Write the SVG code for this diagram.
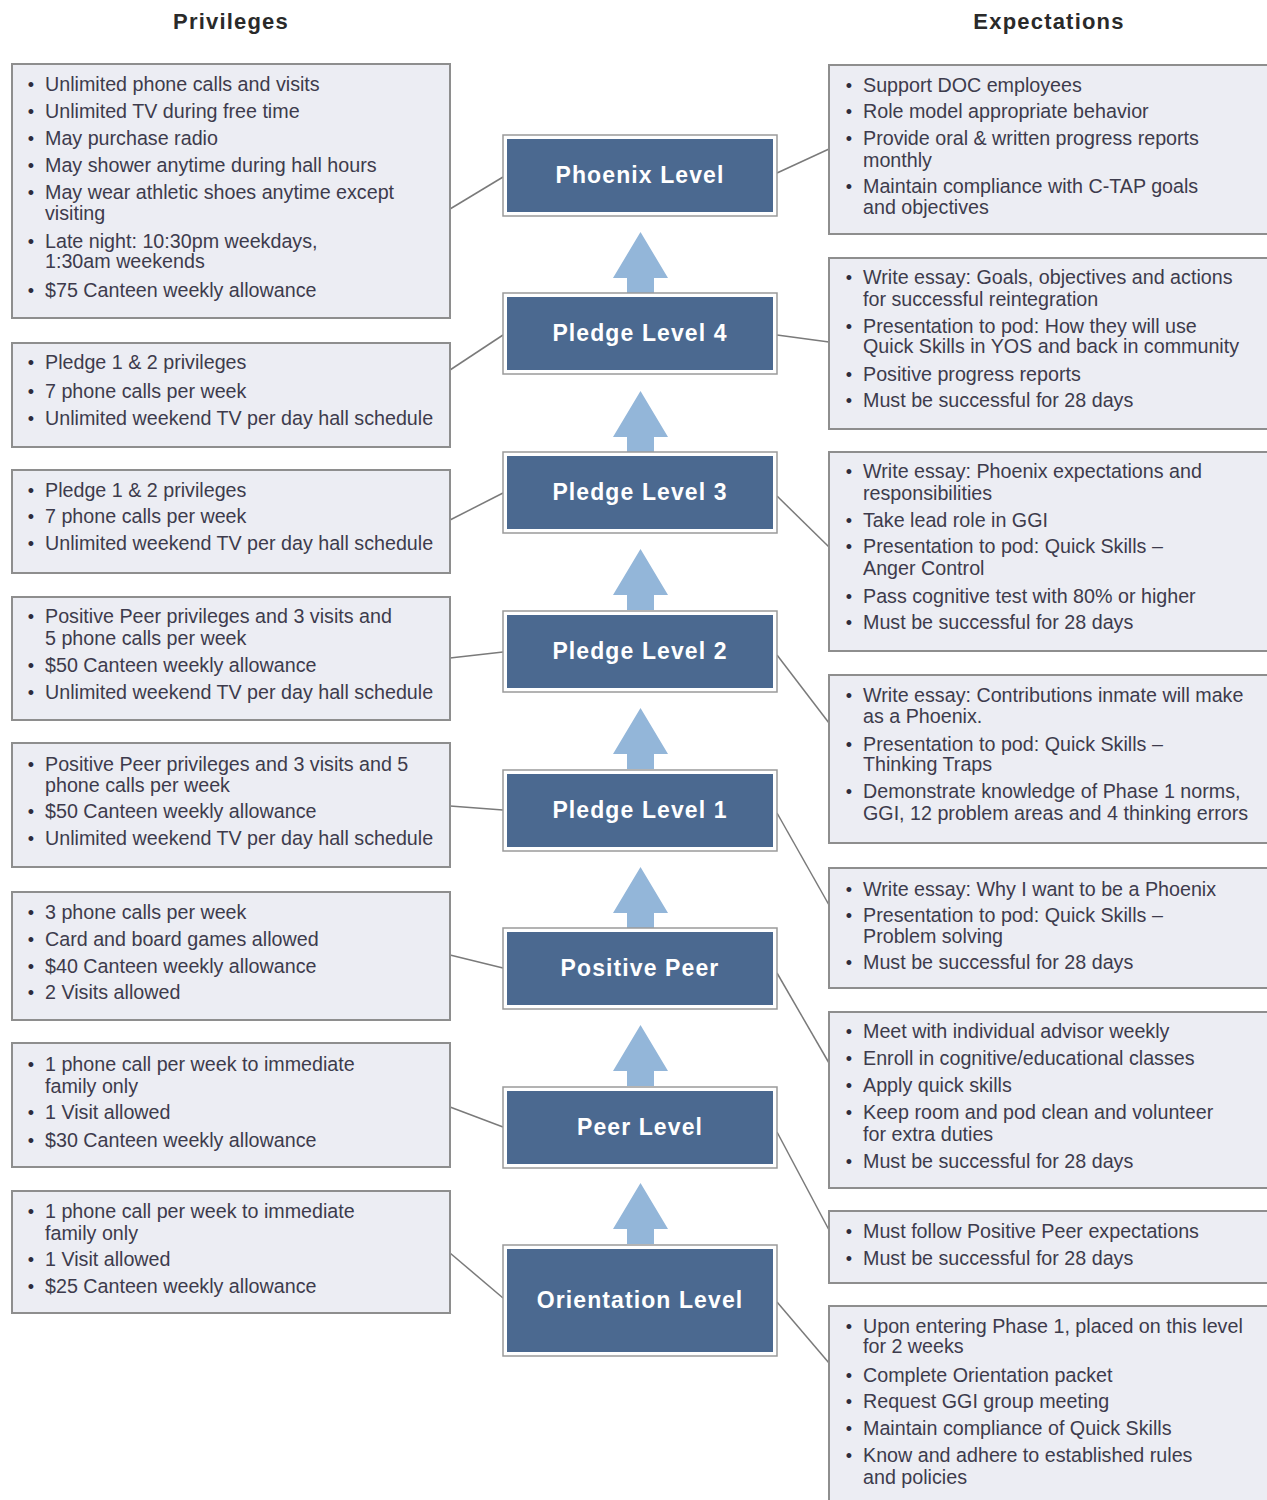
<svg xmlns="http://www.w3.org/2000/svg" width="1267" height="1500" viewBox="0 0 1267 1500">
<style>
.hdr{font-family:"Liberation Sans",Arial,sans-serif;font-weight:bold;font-size:22px;fill:#2a2a2a;text-anchor:middle;letter-spacing:1.2px}
.box{fill:#ecedf3;stroke:#8e8e8e;stroke-width:2}
.t{font-family:"Liberation Sans",Arial,sans-serif;font-size:19.7px;fill:#3d3b4c}
.b{font-family:"Liberation Sans",Arial,sans-serif;font-size:18px;fill:#2e2c3c;text-anchor:middle}
.lvo{fill:#ffffff;stroke:#9a9a9a;stroke-width:1.5}
.lvi{fill:#4b6990}
.lvt{font-family:"Liberation Sans",Arial,sans-serif;font-weight:bold;font-size:23px;fill:#ffffff;text-anchor:middle;letter-spacing:1.1px}
.arr{fill:#93b6d9}
.con{stroke:#7a7a7a;stroke-width:1.5;fill:none}
</style>
<defs>
<path id="up" d="M0,0 L27.5,46 L13.5,46 L13.5,61 L-13.5,61 L-13.5,46 L-27.5,46 Z"/>
</defs>

<text class="hdr" x="231" y="29">Privileges</text>
<text class="hdr" x="1049" y="29">Expectations</text>

<g id="connectors">
<line class="con" x1="450" y1="209" x2="503" y2="177"/>
<line class="con" x1="450" y1="370" x2="503" y2="335"/>
<line class="con" x1="450" y1="520" x2="503" y2="493"/>
<line class="con" x1="450" y1="658" x2="503" y2="652"/>
<line class="con" x1="450" y1="806" x2="503" y2="810"/>
<line class="con" x1="450" y1="955" x2="503" y2="968"/>
<line class="con" x1="450" y1="1107" x2="503" y2="1127"/>
<line class="con" x1="450" y1="1253" x2="503" y2="1298"/>
<line class="con" x1="777" y1="173" x2="829" y2="149"/>
<line class="con" x1="777" y1="335" x2="829" y2="342"/>
<line class="con" x1="777" y1="496" x2="829" y2="547"/>
<line class="con" x1="777" y1="655" x2="829" y2="723"/>
<line class="con" x1="777" y1="813" x2="829" y2="905"/>
<line class="con" x1="777" y1="973" x2="829" y2="1063"/>
<line class="con" x1="777" y1="1132" x2="829" y2="1230"/>
<line class="con" x1="777" y1="1302" x2="829" y2="1363"/>
<use href="#up" class="arr" x="640.5" y="232"/>
<use href="#up" class="arr" x="640.5" y="391"/>
<use href="#up" class="arr" x="640.5" y="549"/>
<use href="#up" class="arr" x="640.5" y="708"/>
<use href="#up" class="arr" x="640.5" y="867"/>
<use href="#up" class="arr" x="640.5" y="1025"/>
<use href="#up" class="arr" x="640.5" y="1183"/>
</g>

<g id="phoenix-level">
<rect class="lvo" x="503" y="135" width="274" height="81"/>
<rect class="lvi" x="507" y="139" width="266" height="73"/>
<text class="lvt" x="640" y="183">Phoenix Level</text>
</g>
<g id="pledge-level-4">
<rect class="lvo" x="503" y="293" width="274" height="81"/>
<rect class="lvi" x="507" y="297" width="266" height="73"/>
<text class="lvt" x="640" y="341">Pledge Level 4</text>
</g>
<g id="pledge-level-3">
<rect class="lvo" x="503" y="452" width="274" height="81"/>
<rect class="lvi" x="507" y="456" width="266" height="73"/>
<text class="lvt" x="640" y="500">Pledge Level 3</text>
</g>
<g id="pledge-level-2">
<rect class="lvo" x="503" y="611" width="274" height="81"/>
<rect class="lvi" x="507" y="615" width="266" height="73"/>
<text class="lvt" x="640" y="659">Pledge Level 2</text>
</g>
<g id="pledge-level-1">
<rect class="lvo" x="503" y="770" width="274" height="81"/>
<rect class="lvi" x="507" y="774" width="266" height="73"/>
<text class="lvt" x="640" y="818">Pledge Level 1</text>
</g>
<g id="positive-peer">
<rect class="lvo" x="503" y="928" width="274" height="81"/>
<rect class="lvi" x="507" y="932" width="266" height="73"/>
<text class="lvt" x="640" y="976">Positive Peer</text>
</g>
<g id="peer-level">
<rect class="lvo" x="503" y="1087" width="274" height="81"/>
<rect class="lvi" x="507" y="1091" width="266" height="73"/>
<text class="lvt" x="640" y="1135">Peer Level</text>
</g>
<g id="orientation-level">
<rect class="lvo" x="503" y="1245" width="274" height="111"/>
<rect class="lvi" x="507" y="1249" width="266" height="103"/>
<text class="lvt" x="640" y="1308">Orientation Level</text>
</g>

<g id="priv-phoenix">
<rect class="box" x="12" y="64" width="438" height="254"/>
<text class="b" x="31" y="91">•</text><text class="t" x="45" y="91">Unlimited phone calls and visits</text>
<text class="b" x="31" y="118">•</text><text class="t" x="45" y="118">Unlimited TV during free time</text>
<text class="b" x="31" y="145">•</text><text class="t" x="45" y="145">May purchase radio</text>
<text class="b" x="31" y="172">•</text><text class="t" x="45" y="172">May shower anytime during hall hours</text>
<text class="b" x="31" y="199">•</text><text class="t" x="45" y="199">May wear athletic shoes anytime except</text>
<text class="t" x="45" y="220">visiting</text>
<text class="b" x="31" y="248">•</text><text class="t" x="45" y="248">Late night: 10:30pm weekdays,</text>
<text class="t" x="45" y="268">1:30am weekends</text>
<text class="b" x="31" y="297">•</text><text class="t" x="45" y="297">$75 Canteen weekly allowance</text>
</g>
<g id="priv-pledge4">
<rect class="box" x="12" y="343" width="438" height="104"/>
<text class="b" x="31" y="369">•</text><text class="t" x="45" y="369">Pledge 1 &amp; 2 privileges</text>
<text class="b" x="31" y="398">•</text><text class="t" x="45" y="398">7 phone calls per week</text>
<text class="b" x="31" y="425">•</text><text class="t" x="45" y="425">Unlimited weekend TV per day hall schedule</text>
</g>
<g id="priv-pledge3">
<rect class="box" x="12" y="470" width="438" height="103"/>
<text class="b" x="31" y="497">•</text><text class="t" x="45" y="497">Pledge 1 &amp; 2 privileges</text>
<text class="b" x="31" y="523">•</text><text class="t" x="45" y="523">7 phone calls per week</text>
<text class="b" x="31" y="550">•</text><text class="t" x="45" y="550">Unlimited weekend TV per day hall schedule</text>
</g>
<g id="priv-pledge2">
<rect class="box" x="12" y="597" width="438" height="123"/>
<text class="b" x="31" y="623">•</text><text class="t" x="45" y="623">Positive Peer privileges and 3 visits and</text>
<text class="t" x="45" y="645">5 phone calls per week</text>
<text class="b" x="31" y="672">•</text><text class="t" x="45" y="672">$50 Canteen weekly allowance</text>
<text class="b" x="31" y="699">•</text><text class="t" x="45" y="699">Unlimited weekend TV per day hall schedule</text>
</g>
<g id="priv-pledge1">
<rect class="box" x="12" y="743" width="438" height="124"/>
<text class="b" x="31" y="771">•</text><text class="t" x="45" y="771">Positive Peer privileges and 3 visits and 5</text>
<text class="t" x="45" y="792">phone calls per week</text>
<text class="b" x="31" y="818">•</text><text class="t" x="45" y="818">$50 Canteen weekly allowance</text>
<text class="b" x="31" y="845">•</text><text class="t" x="45" y="845">Unlimited weekend TV per day hall schedule</text>
</g>
<g id="priv-positive-peer">
<rect class="box" x="12" y="892" width="438" height="128"/>
<text class="b" x="31" y="919">•</text><text class="t" x="45" y="919">3 phone calls per week</text>
<text class="b" x="31" y="946">•</text><text class="t" x="45" y="946">Card and board games allowed</text>
<text class="b" x="31" y="973">•</text><text class="t" x="45" y="973">$40 Canteen weekly allowance</text>
<text class="b" x="31" y="999">•</text><text class="t" x="45" y="999">2 Visits allowed</text>
</g>
<g id="priv-peer">
<rect class="box" x="12" y="1043" width="438" height="124"/>
<text class="b" x="31" y="1071">•</text><text class="t" x="45" y="1071">1 phone call per week to immediate</text>
<text class="t" x="45" y="1093">family only</text>
<text class="b" x="31" y="1119">•</text><text class="t" x="45" y="1119">1 Visit allowed</text>
<text class="b" x="31" y="1147">•</text><text class="t" x="45" y="1147">$30 Canteen weekly allowance</text>
</g>
<g id="priv-orientation">
<rect class="box" x="12" y="1191" width="438" height="122"/>
<text class="b" x="31" y="1218">•</text><text class="t" x="45" y="1218">1 phone call per week to immediate</text>
<text class="t" x="45" y="1240">family only</text>
<text class="b" x="31" y="1266">•</text><text class="t" x="45" y="1266">1 Visit allowed</text>
<text class="b" x="31" y="1293">•</text><text class="t" x="45" y="1293">$25 Canteen weekly allowance</text>
</g>

<g id="exp-phoenix">
<rect class="box" x="829" y="65" width="450" height="169"/>
<text class="b" x="849" y="92">•</text><text class="t" x="863" y="92">Support DOC employees</text>
<text class="b" x="849" y="118">•</text><text class="t" x="863" y="118">Role model appropriate behavior</text>
<text class="b" x="849" y="145">•</text><text class="t" x="863" y="145">Provide oral &amp; written progress reports</text>
<text class="t" x="863" y="167">monthly</text>
<text class="b" x="849" y="193">•</text><text class="t" x="863" y="193">Maintain compliance with C-TAP goals</text>
<text class="t" x="863" y="214">and objectives</text>
</g>
<g id="exp-pledge4">
<rect class="box" x="829" y="258" width="450" height="171"/>
<text class="b" x="849" y="284">•</text><text class="t" x="863" y="284">Write essay: Goals, objectives and actions</text>
<text class="t" x="863" y="306">for successful reintegration</text>
<text class="b" x="849" y="333">•</text><text class="t" x="863" y="333">Presentation to pod: How they will use</text>
<text class="t" x="863" y="353">Quick Skills in YOS and back in community</text>
<text class="b" x="849" y="381">•</text><text class="t" x="863" y="381">Positive progress reports</text>
<text class="b" x="849" y="407">•</text><text class="t" x="863" y="407">Must be successful for 28 days</text>
</g>
<g id="exp-pledge3">
<rect class="box" x="829" y="452" width="450" height="199"/>
<text class="b" x="849" y="478">•</text><text class="t" x="863" y="478">Write essay: Phoenix expectations and</text>
<text class="t" x="863" y="500">responsibilities</text>
<text class="b" x="849" y="527">•</text><text class="t" x="863" y="527">Take lead role in GGI</text>
<text class="b" x="849" y="553">•</text><text class="t" x="863" y="553">Presentation to pod: Quick Skills –</text>
<text class="t" x="863" y="575">Anger Control</text>
<text class="b" x="849" y="603">•</text><text class="t" x="863" y="603">Pass cognitive test with 80% or higher</text>
<text class="b" x="849" y="629">•</text><text class="t" x="863" y="629">Must be successful for 28 days</text>
</g>
<g id="exp-pledge2">
<rect class="box" x="829" y="675" width="450" height="168"/>
<text class="b" x="849" y="702">•</text><text class="t" x="863" y="702">Write essay: Contributions inmate will make</text>
<text class="t" x="863" y="723">as a Phoenix.</text>
<text class="b" x="849" y="751">•</text><text class="t" x="863" y="751">Presentation to pod: Quick Skills –</text>
<text class="t" x="863" y="771">Thinking Traps</text>
<text class="b" x="849" y="798">•</text><text class="t" x="863" y="798">Demonstrate knowledge of Phase 1 norms,</text>
<text class="t" x="863" y="820">GGI, 12 problem areas and 4 thinking errors</text>
</g>
<g id="exp-pledge1">
<rect class="box" x="829" y="868" width="450" height="120"/>
<text class="b" x="849" y="896">•</text><text class="t" x="863" y="896">Write essay: Why I want to be a Phoenix</text>
<text class="b" x="849" y="922">•</text><text class="t" x="863" y="922">Presentation to pod: Quick Skills –</text>
<text class="t" x="863" y="943">Problem solving</text>
<text class="b" x="849" y="969">•</text><text class="t" x="863" y="969">Must be successful for 28 days</text>
</g>
<g id="exp-positive-peer">
<rect class="box" x="829" y="1012" width="450" height="176"/>
<text class="b" x="849" y="1038">•</text><text class="t" x="863" y="1038">Meet with individual advisor weekly</text>
<text class="b" x="849" y="1065">•</text><text class="t" x="863" y="1065">Enroll in cognitive/educational classes</text>
<text class="b" x="849" y="1092">•</text><text class="t" x="863" y="1092">Apply quick skills</text>
<text class="b" x="849" y="1119">•</text><text class="t" x="863" y="1119">Keep room and pod clean and volunteer</text>
<text class="t" x="863" y="1141">for extra duties</text>
<text class="b" x="849" y="1168">•</text><text class="t" x="863" y="1168">Must be successful for 28 days</text>
</g>
<g id="exp-peer">
<rect class="box" x="829" y="1211" width="450" height="72"/>
<text class="b" x="849" y="1238">•</text><text class="t" x="863" y="1238">Must follow Positive Peer expectations</text>
<text class="b" x="849" y="1265">•</text><text class="t" x="863" y="1265">Must be successful for 28 days</text>
</g>
<g id="exp-orientation">
<rect class="box" x="829" y="1306" width="450" height="210"/>
<text class="b" x="849" y="1333">•</text><text class="t" x="863" y="1333">Upon entering Phase 1, placed on this level</text>
<text class="t" x="863" y="1353">for 2 weeks</text>
<text class="b" x="849" y="1382">•</text><text class="t" x="863" y="1382">Complete Orientation packet</text>
<text class="b" x="849" y="1408">•</text><text class="t" x="863" y="1408">Request GGI group meeting</text>
<text class="b" x="849" y="1435">•</text><text class="t" x="863" y="1435">Maintain compliance of Quick Skills</text>
<text class="b" x="849" y="1462">•</text><text class="t" x="863" y="1462">Know and adhere to established rules</text>
<text class="t" x="863" y="1484">and policies</text>
</g>
</svg>
